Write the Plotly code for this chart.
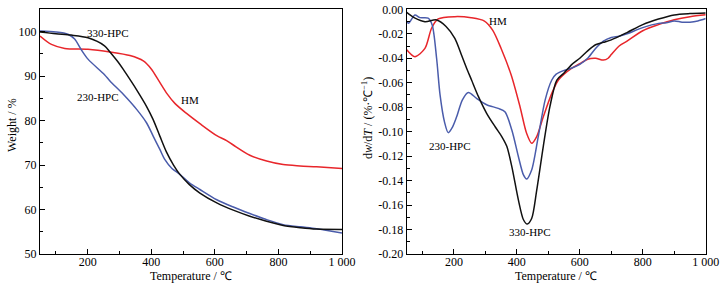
import plotly.graph_objects as go

# ---------------- data: TGA (left) ----------------
tga_330_T = [50, 100, 148, 201, 253, 270, 295, 312, 337, 354, 385, 406, 427, 448, 470, 490, 520, 553, 606, 660, 710, 760, 815, 870, 920, 1000]
tga_330_W = [99.9, 99.5, 99.2, 98.6, 96.8, 95.4, 93.2, 91.5, 88.8, 86.9, 83.2, 80.2, 76.5, 72.9, 70.0, 67.9, 65.6, 63.7, 61.5, 59.8, 58.5, 57.4, 56.4, 55.9, 55.6, 55.5]

tga_230_T = [50, 100, 138, 159, 180, 201, 253, 270, 312, 354, 385, 406, 427, 443, 465, 490, 520, 553, 606, 660, 710, 760, 815, 870, 920, 1000]
tga_230_W = [100.1, 99.9, 99.4, 98.3, 95.9, 93.8, 90.3, 88.9, 85.9, 82.5, 79.5, 76.5, 73.5, 71.2, 69.2, 67.9, 66.0, 64.5, 62.2, 60.5, 59.1, 57.8, 56.6, 56.1, 55.7, 54.7]

tga_hm_T = [50, 86, 128, 201, 270, 333, 375, 400, 425, 450, 475, 511, 553, 606, 637, 658, 710, 763, 815, 868, 920, 1000]
tga_hm_W = [99.0, 97.1, 96.2, 96.0, 95.4, 94.6, 93.4, 91.6, 88.8, 86.0, 83.8, 81.6, 79.3, 76.6, 75.5, 74.5, 72.2, 70.9, 70.1, 69.8, 69.6, 69.2]

# ---------------- data: DTG (right) ----------------
dtg_330_T = [50, 75, 108, 145, 175, 203, 225, 240, 256, 278, 304, 331, 352, 368, 384, 405, 421, 433, 447, 463, 484, 505, 527, 550, 575, 600, 625, 650, 675, 700, 750, 800, 850, 900, 950, 1000]
dtg_330_V = [-0.0025, -0.007, -0.0101, -0.0087, -0.014, -0.0237, -0.038, -0.048, -0.0578, -0.0714, -0.085, -0.096, -0.104, -0.112, -0.1286, -0.156, -0.172, -0.1755, -0.171, -0.148, -0.112, -0.0796, -0.0578, -0.052, -0.045, -0.040, -0.034, -0.029, -0.027, -0.025, -0.019, -0.0125, -0.008, -0.0046, -0.0035, -0.003]

dtg_230_T = [50, 56, 76, 92, 118, 131, 145, 156, 170, 182, 196, 209, 227, 246, 272, 304, 341, 362, 384, 405, 421, 431, 447, 468, 490, 511, 525, 550, 575, 600, 625, 650, 675, 700, 725, 750, 800, 850, 875, 900, 925, 950, 975, 1000]
dtg_230_V = [-0.010, -0.0114, -0.0047, -0.0068, -0.0072, -0.0128, -0.040, -0.070, -0.092, -0.1008, -0.096, -0.0877, -0.074, -0.068, -0.0728, -0.078, -0.081, -0.0837, -0.0987, -0.1205, -0.1354, -0.1387, -0.1313, -0.104, -0.074, -0.0578, -0.053, -0.050, -0.048, -0.045, -0.040, -0.032, -0.026, -0.023, -0.022, -0.020, -0.015, -0.0115, -0.011, -0.0095, -0.0105, -0.0105, -0.0095, -0.0075]

dtg_hm_T = [50, 76, 108, 129, 150, 203, 255, 297, 323, 350, 382, 410, 431, 447, 463, 484, 511, 532, 550, 575, 600, 625, 650, 675, 690, 700, 725, 750, 800, 850, 900, 950, 1000]
dtg_hm_V = [-0.033, -0.0387, -0.032, -0.0155, -0.0079, -0.006, -0.0069, -0.0096, -0.017, -0.032, -0.0537, -0.0796, -0.1014, -0.1095, -0.104, -0.0878, -0.0687, -0.0578, -0.053, -0.048, -0.0445, -0.0408, -0.040, -0.0415, -0.040, -0.037, -0.030, -0.026, -0.0175, -0.0125, -0.0085, -0.006, -0.0045]

x_tickvals = [200, 400, 600, 800, 1000]
x_ticktext = ["200", "400", "600", "800", "1 000"]
y1_tickvals = [50, 60, 70, 80, 90, 100]
y2_tickvals = [-0.20, -0.18, -0.16, -0.14, -0.12, -0.10, -0.08, -0.06, -0.04, -0.02, 0.00]
y2_ticktext = ["-0.20", "-0.18", "-0.16", "-0.14", "-0.12", "-0.10", "-0.08", "-0.06", "-0.04", "-0.02", "0.00"]

BLACK = "#111111"
RED = "#e8262b"
BLUE = "#4a5cab"
FONT = "Liberation Serif"
W, H = 723, 288

fig = go.Figure()
lw = 1.5
def add(x, y, color, xa, ya):
    fig.add_trace(go.Scatter(x=x, y=y, mode="lines", xaxis=xa, yaxis=ya,
                             line=dict(color=color, width=lw, shape="spline", smoothing=0.8),
                             showlegend=False, hoverinfo="skip"))

add(tga_hm_T, tga_hm_W, RED, "x", "y")
add(tga_230_T, tga_230_W, BLUE, "x", "y")
add(tga_330_T, tga_330_W, BLACK, "x", "y")
add(dtg_hm_T, dtg_hm_V, RED, "x2", "y2")
add(dtg_230_T, dtg_230_V, BLUE, "x2", "y2")
add(dtg_330_T, dtg_330_V, BLACK, "x2", "y2")

x1d = [40 / W, 342 / W]
x2d = [406.7 / W, 705.7 / W]
yd = [1 - 254 / H, 1 - 9.3 / H]

axis_common = dict(showline=True, linecolor="black", linewidth=1.3, mirror=True,
                   ticks="inside", ticklen=5, tickwidth=1, tickcolor="black",
                   showgrid=False, zeroline=False, automargin=False,
                   tickfont=dict(family=FONT, size=12, color="black"))

fig.update_layout(
    width=W, height=H, margin=dict(l=0, r=0, t=0, b=0),
    paper_bgcolor="white", plot_bgcolor="white",
    font=dict(family=FONT, size=12, color="black"),
    xaxis=dict(domain=x1d, range=[50, 1000], tickvals=x_tickvals, ticktext=x_ticktext,
               minor=dict(tickvals=[100, 300, 500, 700, 900], ticks="inside", ticklen=3, tickcolor="black"),
               anchor="y", ticklabelstandoff=-4, **axis_common),
    yaxis=dict(domain=yd, range=[50, 105], tickvals=y1_tickvals,
               minor=dict(tickvals=[55, 65, 75, 85, 95, 105], ticks="inside", ticklen=3, tickcolor="black"),
               anchor="x", **axis_common),
    xaxis2=dict(domain=x2d, range=[50, 1000], tickvals=x_tickvals, ticktext=x_ticktext,
                minor=dict(tickvals=[100, 300, 500, 700, 900], ticks="inside", ticklen=3, tickcolor="black"),
                anchor="y2", ticklabelstandoff=-4, **axis_common),
    yaxis2=dict(domain=yd, range=[-0.20, 0.0], tickvals=y2_tickvals, ticktext=y2_ticktext,
                minor=dict(tickvals=[-0.19, -0.17, -0.15, -0.13, -0.11, -0.09, -0.07, -0.05, -0.03, -0.01],
                           ticks="inside", ticklen=3, tickcolor="black"),
                anchor="x2", **axis_common),
)

# axis titles
def ptxt(text, xpx, ypx, angle=0, size=12):
    fig.add_annotation(text=text, x=xpx / W, y=1 - ypx / H, xref="paper", yref="paper",
                       showarrow=False, textangle=angle, font=dict(family=FONT, size=size, color="black"),
                       xanchor="center", yanchor="middle")

ptxt("Temperature / ℃", 191, 276)
ptxt("Temperature / ℃", 556, 276)
ptxt("Weight / %", 12, 125, angle=-90)
ptxt("d<i>w</i>/d<i>T</i> / (%·℃<sup>−1</sup>)", 367, 118, angle=-90)

# curve labels
def dtxt(text, x, y, xa, ya):
    fig.add_annotation(text=text, x=x, y=y, xref=xa, yref=ya, showarrow=False,
                       font=dict(family=FONT, size=11, color="black"))

dtxt("330-HPC", 265, 99.6, "x", "y")
dtxt("230-HPC", 231, 85.2, "x", "y")
dtxt("HM", 522, 84.6, "x", "y")
dtxt("HM", 340, -0.0093, "x2", "y2")
dtxt("230-HPC", 189, -0.1115, "x2", "y2")
dtxt("330-HPC", 443, -0.1818, "x2", "y2")

fig.write_html("out.html", config={"displayModeBar": False},
               post_script="document.body.style.margin='0';document.body.style.padding='0';")
